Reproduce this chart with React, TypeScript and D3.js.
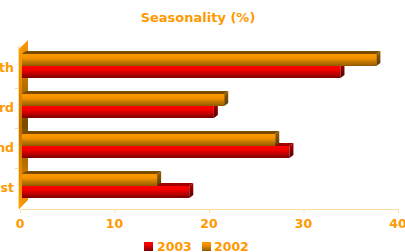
import React from "react";
import * as d3 from "d3";

const categories = ["4th", "3rd", "2nd", "1st"];
const series = ["2002", "2003"];
const values2003 = [33.7, 20.3, 28.3, 17.7];
const values2002 = [37.5, 21.4, 26.8, 14.3];
const xTicks = [0, 10, 20, 30, 40];

const W = 405;
const H = 252;
const ORANGE = "#FF9900";
const FONT = "'DejaVu Sans', Verdana, sans-serif";

export default function App() {
  const x = d3.scaleLinear().domain([0, 40]).range([20, 398]);
  const y = d3.scaleBand<string>().domain(categories).range([48, 208]);
  const yInner = d3.scaleBand<string>().domain(series).range([8, 32]);
  const off = { x: 2, y: -2 };
  const depth = { x: 4, y: -3 };

  const bars: any[] = [];
  categories.forEach((c, i) => {
    [
      { s: "2003", v: values2003[i], front: "url(#gRed)", top: "#A00000", side: "url(#gRedSide)" },
      { s: "2002", v: values2002[i], front: "url(#gOr)", top: "#7A4C00", side: "url(#gOrSide)" },
    ].forEach((b) => {
      const x0 = x(0) + off.x;
      const x1 = x(b.v) + off.x;
      const y0 = (y(c) as number) + (yInner(b.s) as number) + off.y;
      const h = yInner.bandwidth();
      bars.push(
        <g key={c + b.s}>
          <rect x={x0} y={y0} width={x1 - x0} height={h} fill={b.front} />
          <polygon
            points={`${x0},${y0} ${x1},${y0} ${x1 + depth.x},${y0 + depth.y} ${x0 + depth.x},${y0 + depth.y}`}
            fill={b.top}
          />
          <polygon
            points={`${x1},${y0} ${x1 + depth.x},${y0 + depth.y} ${x1 + depth.x},${y0 + h + depth.y} ${x1},${y0 + h}`}
            fill={b.side}
          />
        </g>
      );
    });
  });

  const axisY = 209;

  return (
    <svg
      width={W}
      height={H}
      style={{ position: "absolute", left: 0, top: 0, fontFamily: FONT }}
    >
      <defs>
        <linearGradient id="gRed" x1="0" y1="0" x2="0" y2="1">
          <stop offset="0" stopColor="#FF0000" />
          <stop offset="0.35" stopColor="#F00000" />
          <stop offset="1" stopColor="#7A0000" />
        </linearGradient>
        <linearGradient id="gRedSide" x1="0" y1="0" x2="0" y2="1">
          <stop offset="0" stopColor="#B00000" />
          <stop offset="1" stopColor="#500000" />
        </linearGradient>
        <linearGradient id="gOr" x1="0" y1="0" x2="0" y2="1">
          <stop offset="0" stopColor="#FF9900" />
          <stop offset="0.35" stopColor="#F29100" />
          <stop offset="1" stopColor="#8F5A00" />
        </linearGradient>
        <linearGradient id="gOrSide" x1="0" y1="0" x2="0" y2="1">
          <stop offset="0" stopColor="#9A6000" />
          <stop offset="1" stopColor="#5A3800" />
        </linearGradient>
        <linearGradient id="gWall" x1="0" y1="0" x2="0" y2="1">
          <stop offset="0" stopColor="#FF9900" />
          <stop offset="0.5" stopColor="#7A4A00" />
          <stop offset="1" stopColor="#FF9900" />
        </linearGradient>
        <linearGradient id="gWallEdge" x1="0" y1="0" x2="0" y2="1">
          <stop offset="0" stopColor="#FFA000" />
          <stop offset="0.5" stopColor="#C07000" />
          <stop offset="1" stopColor="#FFA000" />
        </linearGradient>
      </defs>

      <text x={198} y={22} textAnchor="middle" fill={ORANGE} fontWeight="bold" fontSize={13}>
        Seasonality (%)
      </text>

      <polygon points="19,49 28,40 28,200 19,209" fill="url(#gWall)" />
      <polygon points="19,49 22,46 22,206 19,209" fill="url(#gWallEdge)" />

      <line x1={18.5} y1={46} x2={18.5} y2={axisY} stroke="#FFD9A0" />
      {categories.slice(1).map((c) => (
        <line key={c} x1={15} x2={18.5} y1={(y(c) as number) + 0.5} y2={(y(c) as number) + 0.5} stroke="#FFD9A0" />
      ))}

      {bars}

      <line x1={x(0)} x2={x(40)} y1={axisY + 0.5} y2={axisY + 0.5} stroke="#FFD9A0" />
      {xTicks.map((t) => (
        <g key={t}>
          <line x1={x(t) + 0.5} x2={x(t) + 0.5} y1={axisY} y2={axisY + 4} stroke="#FFD9A0" />
          <text x={x(t)} y={228} textAnchor="middle" fill={ORANGE} fontWeight="bold" fontSize={12.5}>
            {t}
          </text>
        </g>
      ))}

      {categories.map((c) => (
        <text
          key={c}
          x={14}
          y={(y(c) as number) + y.bandwidth() / 2}
          dy="0.35em"
          textAnchor="end"
          fill={ORANGE}
          fontWeight="bold"
          fontSize={12.5}
        >
          {c}
        </text>
      ))}

      <rect x={144} y={242} width={9} height={9} fill="url(#gRed)" />
      <text x={157} y={251} fill={ORANGE} fontWeight="bold" fontSize={12.5}>2003</text>
      <rect x={202} y={242} width={9} height={9} fill="url(#gOr)" />
      <text x={214} y={251} fill={ORANGE} fontWeight="bold" fontSize={12.5}>2002</text>
    </svg>
  );
}
